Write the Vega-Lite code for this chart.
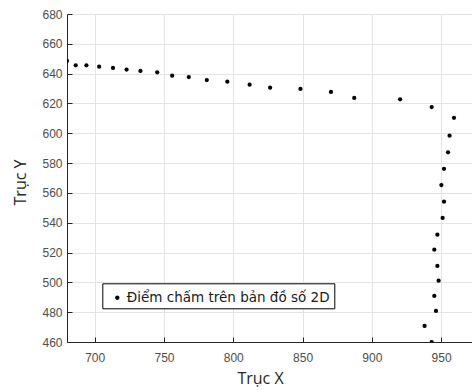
{
  "$schema": "https://vega.github.io/schema/vega-lite/v6.json",
  "width": 405,
  "height": 328,
  "autosize": {"type": "none"},
  "padding": {"left": 67, "top": 14, "right": 0, "bottom": 48},
  "background": "white",
  "config": {
    "view": {"stroke": null},
    "axis": {
      "gridColor": "#e3e3e3",
      "gridWidth": 1,
      "domainColor": "#262626",
      "domainWidth": 1,
      "tickColor": "#262626",
      "tickSize": -5,
      "labelFont": "Liberation Sans",
      "labelFontSize": 12,
      "labelColor": "#4d4d4d",
      "titleFont": "Open Sans",
      "titleFontSize": 16,
      "titleFontWeight": "normal",
      "titleColor": "#262626"
    }
  },
  "data": {
    "values": [
      {"x": 680, "y": 648.5, "s": "Điểm chấm trên bản đồ số 2D"},
      {"x": 686.3, "y": 645.6, "s": "Điểm chấm trên bản đồ số 2D"},
      {"x": 694, "y": 645.6, "s": "Điểm chấm trên bản đồ số 2D"},
      {"x": 703.2, "y": 644.7, "s": "Điểm chấm trên bản đồ số 2D"},
      {"x": 713.2, "y": 643.8, "s": "Điểm chấm trên bản đồ số 2D"},
      {"x": 723, "y": 642.7, "s": "Điểm chấm trên bản đồ số 2D"},
      {"x": 733, "y": 641.8, "s": "Điểm chấm trên bản đồ số 2D"},
      {"x": 745.1, "y": 640.9, "s": "Điểm chấm trên bản đồ số 2D"},
      {"x": 755.9, "y": 638.6, "s": "Điểm chấm trên bản đồ số 2D"},
      {"x": 767.9, "y": 637.7, "s": "Điểm chấm trên bản đồ số 2D"},
      {"x": 780.9, "y": 635.7, "s": "Điểm chấm trên bản đồ số 2D"},
      {"x": 795.7, "y": 634.6, "s": "Điểm chấm trên bản đồ số 2D"},
      {"x": 811.8, "y": 632.6, "s": "Điểm chấm trên bản đồ số 2D"},
      {"x": 826.6, "y": 630.6, "s": "Điểm chấm trên bản đồ số 2D"},
      {"x": 848.5, "y": 629.7, "s": "Điểm chấm trên bản đồ số 2D"},
      {"x": 870.5, "y": 627.7, "s": "Điểm chấm trên bản đồ số 2D"},
      {"x": 887.3, "y": 623.7, "s": "Điểm chấm trên bản đồ số 2D"},
      {"x": 920.4, "y": 622.8, "s": "Điểm chấm trên bản đồ số 2D"},
      {"x": 943.2, "y": 617.6, "s": "Điểm chấm trên bản đồ số 2D"},
      {"x": 959.3, "y": 610.4, "s": "Điểm chấm trên bản đồ số 2D"},
      {"x": 956.1, "y": 598.4, "s": "Điểm chấm trên bản đồ số 2D"},
      {"x": 955, "y": 587.2, "s": "Điểm chấm trên bản đồ số 2D"},
      {"x": 952.1, "y": 576.2, "s": "Điểm chấm trên bản đồ số 2D"},
      {"x": 950.2, "y": 565.3, "s": "Điểm chấm trên bản đồ số 2D"},
      {"x": 952.1, "y": 554.1, "s": "Điểm chấm trên bản đồ số 2D"},
      {"x": 951.1, "y": 543.2, "s": "Điểm chấm trên bản đồ số 2D"},
      {"x": 947.3, "y": 532, "s": "Điểm chấm trên bản đồ số 2D"},
      {"x": 945.1, "y": 521.9, "s": "Điểm chấm trên bản đồ số 2D"},
      {"x": 947.3, "y": 511, "s": "Điểm chấm trên bản đồ số 2D"},
      {"x": 948.2, "y": 501.1, "s": "Điểm chấm trên bản đồ số 2D"},
      {"x": 945.1, "y": 490.9, "s": "Điểm chấm trên bản đồ số 2D"},
      {"x": 946.3, "y": 480.8, "s": "Điểm chấm trên bản đồ số 2D"},
      {"x": 938.1, "y": 470.8, "s": "Điểm chấm trên bản đồ số 2D"},
      {"x": 943.2, "y": 460, "s": "Điểm chấm trên bản đồ số 2D"}
    ]
  },
  "mark": {"type": "point", "filled": true, "size": 18, "opacity": 1, "clip": true},
  "encoding": {
    "x": {
      "field": "x",
      "type": "quantitative",
      "scale": {"domain": [680, 972.3], "nice": false, "zero": false},
      "axis": {
        "values": [700, 750, 800, 850, 900, 950],
        "title": "Trục X",
        "labelPadding": 15,
        "titleX": 193,
        "titleY": 41,
        "titleAlign": "center",
        "titleBaseline": "alphabetic"
      }
    },
    "y": {
      "field": "y",
      "type": "quantitative",
      "scale": {"domain": [460, 680], "nice": false, "zero": false},
      "axis": {
        "values": [460, 480, 500, 520, 540, 560, 580, 600, 620, 640, 660, 680],
        "title": "Trục Y",
        "labelPadding": 10,
        "titleX": -41.5,
        "titleY": 168,
        "titleAlign": "center",
        "titleBaseline": "alphabetic",
        "titleAngle": 270
      }
    },
    "color": {
      "field": "s",
      "type": "nominal",
      "scale": {"range": ["black"]},
      "legend": {
        "title": null,
        "orient": "none",
        "legendX": 35.3,
        "legendY": 269.3,
        "strokeColor": "black",
        "fillColor": "white",
        "padding": 4,
        "symbolType": "M -0.21 0 A 0.21 0.21 0 1 1 0.21 0 A 0.21 0.21 0 1 1 -0.21 0 Z",
        "symbolSize": 441,
        "symbolOffset": 0.5,
        "symbolFillColor": "black",
        "symbolStrokeWidth": 0,
        "labelOffset": -1,
        "labelFont": "DejaVu Sans",
        "labelFontSize": 13.5,
        "labelColor": "#1a1a1a",
        "labelLimit": 400
      }
    }
  }
}
